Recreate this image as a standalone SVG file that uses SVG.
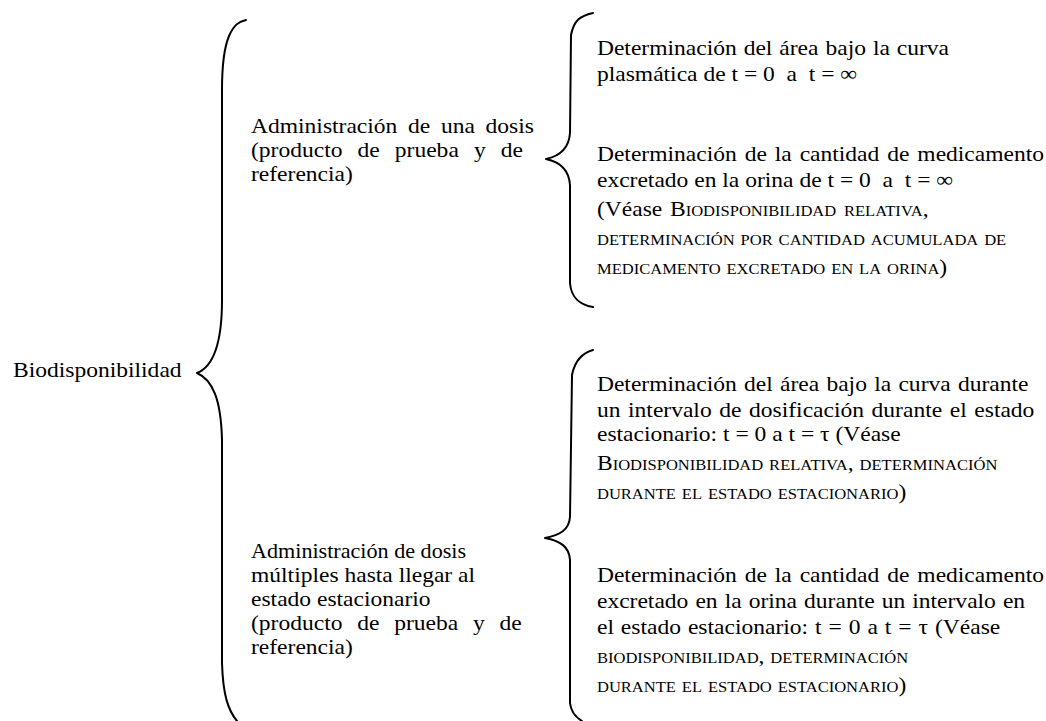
<svg xmlns="http://www.w3.org/2000/svg" width="1046" height="721" viewBox="0 0 1046 721">
<style>
text{font-family:'Liberation Serif','Times New Roman',Times,serif;font-size:22px;fill:#000;white-space:pre}
.sc{font-variant:small-caps}
.brace{fill:none;stroke:#000;stroke-width:2;stroke-linecap:round;stroke-linejoin:round}
</style>
<rect width="1046" height="721" fill="#fff"/>
<g id="connectors">
<path class="brace" d="M246,20 C238,22 234,25 229,36 C224,48 222,65 222,90 L222,300 C222,340 215,366 197,373 C213,380 221,400 222,440 L222,663 C223,695 228,710 237,721"/>
<path class="brace" d="M593,13 C580,16 574,20 571,35 L570,133 C569,148 560,156 546,159 C560,162 569,170 570,185 L570,283 C571,297 580,305 593,307"/>
<path class="brace" d="M593,350 C582,353 575,360 572,375 L570,517 C569,530 560,535 545,538 C560,541 569,546 570,560 L570,703 C571,712 575,717 582,721"/>
</g>
<g transform="scale(1.07 1)">
<g id="root"><text x="12.15" y="377">Biodisponibilidad</text></g>
<g id="single-dose">
<text x="234.6" y="133" word-spacing="4.5">Administración de una dosis</text>
<text x="234.6" y="157" word-spacing="8.6">(producto de prueba y de</text>
<text x="234.6" y="181">referencia)</text>
</g>
<g id="multiple-dose">
<text x="234.6" y="558" textLength="201" lengthAdjust="spacingAndGlyphs">Administración de dosis</text>
<text x="234.6" y="582">múltiples hasta llegar al</text>
<text x="234.6" y="606">estado estacionario</text>
<text x="234.6" y="630" word-spacing="8.3">(producto de prueba y de</text>
<text x="234.6" y="654">referencia)</text>
</g>
<g id="single-auc">
<text x="557.9" y="55" word-spacing="1">Determinación del área bajo la curva</text>
<text x="557.9" y="81">plasmática de t = 0  a  t = ∞</text>
</g>
<g id="single-urine">
<text x="557.9" y="161" word-spacing="1.9">Determinación de la cantidad de medicamento</text>
<text x="557.9" y="187">excretado en la orina de t = 0  a  t = ∞</text>
<text x="557.9" y="216" word-spacing="1.7">(Véase <tspan class="sc">Biodisponibilidad relativa,</tspan></text>
<text x="557.9" y="245" class="sc">determinación por cantidad acumulada de</text>
<text x="557.9" y="274"><tspan class="sc">medicamento excretado en la orina</tspan>)</text>
</g>
<g id="multi-auc">
<text x="557.9" y="391" word-spacing="1.3">Determinación del área bajo la curva durante</text>
<text x="557.9" y="417" word-spacing="1.6">un intervalo de dosificación durante el estado</text>
<text x="557.9" y="441">estacionario: t = 0 a t = τ (Véase</text>
<text x="557.9" y="470" class="sc">Biodisponibilidad relativa, determinación</text>
<text x="557.9" y="499"><tspan class="sc">durante el estado estacionario</tspan>)</text>
</g>
<g id="multi-urine">
<text x="557.9" y="582" word-spacing="1.9">Determinación de la cantidad de medicamento</text>
<text x="557.9" y="608" word-spacing="1.1">excretado en la orina durante un intervalo en</text>
<text x="557.9" y="634" word-spacing="1">el estado estacionario: t = 0 a t = τ (Véase</text>
<text x="557.9" y="663" class="sc">biodisponibilidad, determinación</text>
<text x="557.9" y="692"><tspan class="sc">durante el estado estacionario</tspan>)</text>
</g>
</g>
</svg>
